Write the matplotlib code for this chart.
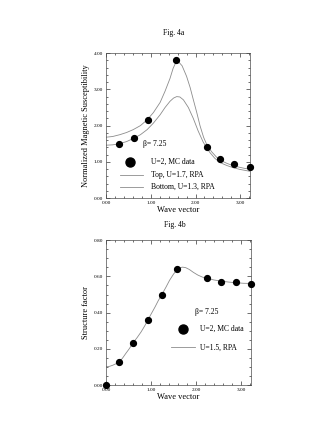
import numpy as np
import matplotlib.pyplot as plt
from matplotlib.ticker import MultipleLocator

plt.rcParams['font.family'] = ['Liberation Serif', 'DejaVu Serif']

# Fig. 4a: normalized magnetic susceptibility
mc_q_a = [0.30, 0.62, 0.93, 1.57, 2.26, 2.55, 2.87, 3.22]
mc_chi = [1.49, 1.65, 2.16, 3.82, 1.42, 1.09, 0.93, 0.87]

top_q = [0.00, 0.15, 0.31, 0.46, 0.61, 0.77, 0.92, 1.06, 1.21, 1.32, 1.43, 1.50,
         1.56, 1.62, 1.70, 1.80, 1.88, 1.95, 2.03, 2.10, 2.18, 2.26, 2.36, 2.47,
         2.58, 2.70, 2.85, 2.99, 3.10, 3.22]
top_chi = [1.68, 1.70, 1.75, 1.81, 1.89, 2.00, 2.16, 2.36, 2.64, 2.95, 3.30, 3.58,
           3.74, 3.76, 3.65, 3.36, 3.05, 2.72, 2.35, 2.00, 1.68, 1.45, 1.28, 1.13,
           1.03, 0.96, 0.89, 0.85, 0.82, 0.80]

bot_q = [0.00, 0.15, 0.30, 0.46, 0.62, 0.77, 0.92, 1.06, 1.21, 1.32, 1.43, 1.51,
         1.58, 1.65, 1.73, 1.84, 1.95, 2.06, 2.17, 2.25, 2.32, 2.43, 2.55, 2.70,
         2.84, 3.00, 3.22]
bot_chi = [1.46, 1.47, 1.50, 1.56, 1.65, 1.75, 1.89, 2.07, 2.30, 2.50, 2.67, 2.76,
           2.80, 2.79, 2.71, 2.50, 2.20, 1.85, 1.55, 1.38, 1.26, 1.10, 0.98, 0.90,
           0.84, 0.79, 0.74]

# Fig. 4b: structure factor
mc_q_b = [0.00, 0.30, 0.59, 0.93, 1.24, 1.58, 2.24, 2.55, 2.88, 3.22]
mc_s = [0.000, 0.129, 0.230, 0.360, 0.500, 0.643, 0.590, 0.570, 0.570, 0.560]

rpa_q = [0.00, 0.08, 0.15, 0.22, 0.30, 0.37, 0.44, 0.52, 0.59, 0.69, 0.78, 0.86,
         0.93, 1.01, 1.09, 1.16, 1.24, 1.33, 1.41, 1.50, 1.58, 1.64, 1.70, 1.77,
         1.85, 1.94, 2.04, 2.14, 2.24, 2.40, 2.55, 2.71, 2.87, 3.05, 3.22]
rpa_s = [0.101, 0.104, 0.110, 0.118, 0.129, 0.150, 0.175, 0.202, 0.230, 0.262,
         0.294, 0.327, 0.360, 0.396, 0.432, 0.466, 0.500, 0.540, 0.578, 0.613,
         0.638, 0.648, 0.651, 0.648, 0.638, 0.622, 0.607, 0.596, 0.589, 0.580,
         0.574, 0.569, 0.565, 0.562, 0.561]

LC = "0.55"
FS = 6
LFS = 5.5


def style(ax, ymaj, ymin):
    ax.set_xlim(0, 3.22)
    ax.xaxis.set_major_locator(MultipleLocator(1.0))
    ax.xaxis.set_minor_locator(MultipleLocator(0.2))
    ax.yaxis.set_major_locator(MultipleLocator(ymaj))
    ax.yaxis.set_minor_locator(MultipleLocator(ymin))
    ax.xaxis.set_major_formatter(lambda v, p: f"{v:.2f}")
    ax.yaxis.set_major_formatter(lambda v, p: f"{v:.2f}")
    ax.tick_params(which="both", direction="in", top=True, right=True,
                   labelsize=3.8, width=0.4, pad=2)
    ax.tick_params(which="major", length=3)
    ax.tick_params(which="minor", length=1.6)
    for s in ax.spines.values():
        s.set_linewidth(0.5)
        s.set_color("0.3")


fig = plt.figure(figsize=(3.27, 4.28), dpi=100)
fig.patch.set_facecolor("white")

# --- Fig. 4a ---
a = fig.add_axes([0.324, 0.537, 0.441, 0.339])
a.plot(top_q, top_chi, color=LC, lw=0.6)
a.plot(bot_q, bot_chi, color=LC, lw=0.6)
a.plot(mc_q_a, mc_chi, "o", color="k", ms=4.2, clip_on=False, zorder=3)
a.set_ylim(0, 4)
style(a, 1.0, 0.2)
a.set_xlabel("Wave vector", fontsize=FS, labelpad=1)
a.set_ylabel("Normalized Magnetic Susceptibility", fontsize=FS, labelpad=3)
# hand-drawn legend
a.text(0.26, 0.36, "β= 7.25", transform=a.transAxes, fontsize=LFS)
a.plot([0.17], [0.25], "o", color="k", ms=6.5, transform=a.transAxes)
a.text(0.31, 0.25, "U=2, MC data", transform=a.transAxes, fontsize=LFS, va="center")
a.plot([0.10, 0.26], [0.16, 0.16], color=LC, lw=0.6, transform=a.transAxes)
a.text(0.31, 0.16, "Top, U=1.7, RPA", transform=a.transAxes, fontsize=LFS, va="center")
a.plot([0.10, 0.26], [0.08, 0.08], color=LC, lw=0.6, transform=a.transAxes)
a.text(0.31, 0.08, "Bottom, U=1.3, RPA", transform=a.transAxes, fontsize=LFS, va="center")

# --- Fig. 4b ---
b = fig.add_axes([0.324, 0.100, 0.444, 0.339])
b.plot(rpa_q, rpa_s, color=LC, lw=0.6)
b.plot(mc_q_b, mc_s, "o", color="k", ms=4.2, clip_on=False, zorder=3)
b.set_ylim(0, 0.8)
style(b, 0.2, 0.05)
b.set_xlabel("Wave vector", fontsize=FS, labelpad=1)
b.set_ylabel("Structure factor", fontsize=FS, labelpad=3)
b.text(0.61, 0.49, "β= 7.25", transform=b.transAxes, fontsize=LFS)
b.plot([0.53], [0.39], "o", color="k", ms=6.5, transform=b.transAxes)
b.text(0.65, 0.39, "U=2, MC data", transform=b.transAxes, fontsize=LFS, va="center")
b.plot([0.45, 0.61], [0.26, 0.26], color=LC, lw=0.6, transform=b.transAxes)
b.text(0.65, 0.26, "U=1.5, RPA", transform=b.transAxes, fontsize=LFS, va="center")

fig.text(0.53, 0.918, "Fig. 4a", fontsize=LFS, ha="center")
fig.text(0.535, 0.47, "Fig. 4b", fontsize=LFS, ha="center")

fig.savefig("out.png", dpi=100, facecolor="white")
